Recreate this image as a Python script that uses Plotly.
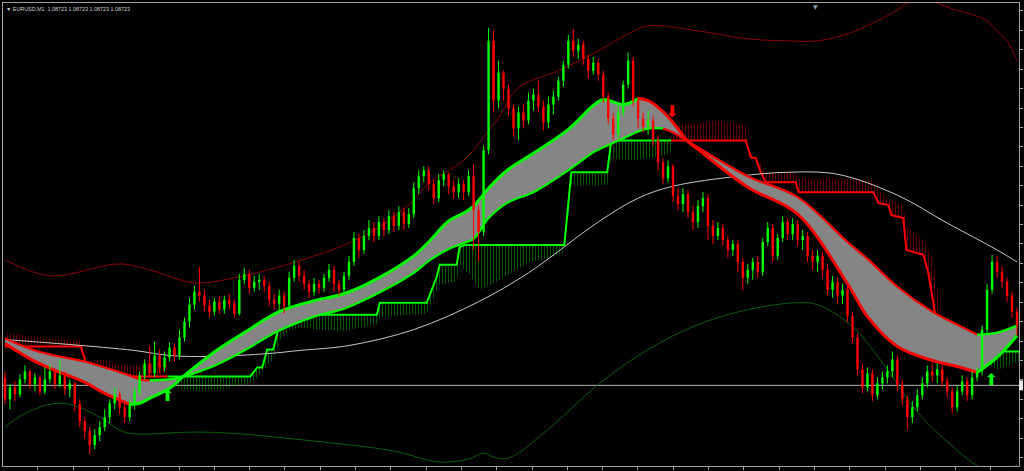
import plotly.graph_objects as go

# ---------------- price data (points above chart floor; bid = 85) ----------------
bars = list(range(204))
open_ = [93,71,83,76,91,99,86,93,79,91, 99,86,95,81,87,66,49,39,25,35,
         43,53,67,76,63,53,66,79,95,107, 97,115,103,113,123,115,133,149,166,179,
         175,165,159,169,161,171,167,157,191,197, 183,189,191,185,171,167,175,165,193,205,
         195,187,179,187,183,193,201,187,181,195, 209,233,221,235,243,235,249,241,255,245,
         259,247,257,283,295,301,287,273,291,297, 285,279,287,279,295,261,239,321,431,371,
         399,383,363,343,359,351,371,377,365,349, 367,375,391,407,431,421,427,413,401,409,
         397,375,353,337,359,387,411,371,353,345, 351,331,309,293,305,275,267,277,259,249,
         265,273,245,235,243,231,221,227,209,193, 201,209,199,229,243,215,233,249,237,247,
         231,235,215,209,215,201,181,189,175,181, 155,133,101,83,97,75,87,93,99,111,
         85,71,53,63,75,87,99,95,101,89, 79,63,79,89,75,93,99,141,181,209,
         199,189,175,159]
high = [99,86,89,96,105,101,97,95,103,106, 101,111,99,91,89,71,53,43,41,49,
        61,71,83,79,69,71,83,99,111,125, 129,121,119,128,127,141,153,173,185,204,
        181,171,173,175,175,177,171,197,203,201, 195,197,195,189,177,181,179,199,211,209,
        201,191,193,191,197,207,205,191,199,215, 239,237,241,251,249,255,253,261,259,265,
        263,263,289,301,305,305,291,297,301,299, 291,293,291,301,307,266,326,444,441,411,
        401,387,367,365,367,379,383,391,371,375, 381,395,411,437,443,433,431,417,415,413,
        401,379,359,365,391,419,415,375,359,361, 355,335,313,311,307,283,283,281,265,271,
        279,277,251,249,247,235,231,231,213,207, 213,215,233,249,247,237,255,253,253,251,
        241,239,221,221,219,207,195,193,187,185, 159,137,107,103,101,93,99,105,119,115,
        91,75,69,81,93,105,107,107,105,93, 83,85,95,93,99,103,145,187,216,215,
        205,193,179,163]
low = [66,61,69,73,87,81,79,75,76,87, 81,83,75,73,59,43,31,16,21,29,
       39,47,61,56,47,49,61,75,91,93, 93,97,99,109,109,111,129,143,161,169,
       159,153,155,157,157,161,153,155,187,177, 179,181,179,165,161,159,157,161,189,189,
       181,173,175,177,179,189,179,175,177,191, 205,213,217,231,229,231,235,237,239,241,
       241,243,253,277,289,281,267,269,285,277, 273,273,271,275,221,209,235,317,359,363,
       371,356,335,331,343,347,361,359,341,343, 357,371,385,403,415,413,407,393,397,391,
       369,347,331,333,355,383,365,343,339,337, 325,301,287,289,269,261,259,253,241,243,
       259,231,227,231,225,213,215,199,181,187, 191,193,195,225,209,211,229,231,231,225,
       221,209,201,199,193,175,173,167,167,149, 127,95,77,79,69,71,81,87,93,79,
       65,41,47,59,71,83,89,87,83,73, 57,59,75,69,71,89,95,137,177,193,
       183,169,153,135]
close = [71,83,76,91,99,86,93,79,91,99, 86,95,81,87,66,49,39,25,35,43,
         53,67,76,63,53,66,79,95,107,97, 115,103,113,123,115,133,149,166,179,175,
         165,159,169,161,171,167,157,191,197,183, 189,191,185,171,167,175,165,193,205,195,
         187,179,187,183,193,201,187,181,195,209, 233,221,235,243,235,249,241,255,245,259,
         247,257,283,295,301,287,273,291,297,285, 279,287,279,295,261,239,321,431,371,399,
         383,363,343,359,351,371,377,365,349,367, 375,391,407,431,421,427,413,401,409,397,
         375,353,337,359,387,411,371,353,345,351, 331,309,293,305,275,267,277,259,249,265,
         273,245,235,243,231,221,227,209,193,201, 209,199,229,243,215,233,249,237,247,231,
         235,215,209,215,201,181,189,175,181,155, 133,101,83,97,75,87,93,99,111,85,
         71,53,63,75,87,99,95,101,89,79, 63,79,89,75,93,99,141,181,209,199,
         189,175,159,145]
bid_level = 85

# ---------------- indicators ----------------
bb_up_x = [0,9,23,29,38,46,59,69,75,82,85,92,96,99,103,111,118,125,129,139,
           149,157,163,169,175,179,181,184,187,190,193,197,199,201,203]
bb_up_y = [211,195,207,201,188,193,210,228,244,271,288,311,334,354,384,401,418,438,446,441,
           433,431,431,438,451,462,469,473,469,463,459,451,441,431,411]
bb_dn_x = [0,3,9,13,19,22,24,27,37,45,62,78,87,93,96,98,101,109,119,129,
           139,149,159,163,170,177,183,190,195,198,201,203]
bb_dn_y = [43,54,66,66,53,43,38,36,38,37,29,19,8,11,17,13,12,41,86,121,
           146,161,168,166,144,101,58,24,4,-4,-4,6]
ma_x = [0,13,26,33,41,53,59,69,82,95,105,119,127,134,147,157,167,179,189,199,203]
ma_y = [131,126,120,115,114,117,120,125,141,169,198,249,273,285,295,299,297,276,248,221,209]

rib_x = [0,6,10,16,20,25,27,29,33,36,39,43,48,55,62,68,75,82,85,89,
         92,94,97,101,106,113,118,120,124,127,129,132,134,137,139,149,159,169,173,179,
         186,191,195,199,203]
fast_y = [127,109,100,88,77,66,67,72,82,95,107,122,138,159,170,177,193,215,229,250,
          258,265,283,302,318,342,366,372,367,373,371,360,349,330,322,284,257,187,154,124,
          110,104,98,113,135]
slow_y = [132,120,115,109,103,95,91,90,91,94,99,107,120,140,154,162,178,198,210,222,
          228,232,253,269,279,301,319,324,333,340,343,343,339,330,324,295,274,229,212,184,
          159,146,136,138,145]
fast_turns = [0, 25, 127, 195, 203]   # down, up, down, up
slow_turns = [0, 29, 132, 195, 203]

red_step_1_x = [0,15.2,16.6,19.2,20,32.6]
red_step_1_y = [124,124,101,101,94,94]
red_hatch_1_x = [0,3.2,7.2,11.2,15.2,16.6,19.2,23.2,27.2,31.2,32.6]
red_hatch_1_y = [138,136,133,131,131,109,111,106,105,109,106]

green_step_1_x = [32.6,49.2,50.6,51.6,52.6,53.8,55.2,59.2,60.2,74.6,75.2,84.6,86.6,87.2,
                  90.6,91.2,92.2,112.2,113.6,120.8,121.6,133.6]
green_step_1_y = [94,94,103,103,121,121,149,154,156,156,168,168,194,206,206,224,226,226,
                  299,299,331,331]
green_hatch_1_x = [32.6,35.2,39.2,43.2,47.2,49.2,50.6,52.2,53.8,55.2,57.2,59.2,63.2,67.2,
                   71.2,74.6,75.2,79.2,84.6,86.6,87.2,90.6,91.2,93.2,95.2,98.6,101.8,105.2,
                   109.2,112.2,113.6,120.8,121.6,125.2,129.2,132.2,133.6]
green_hatch_1_y = [86,81,79,81,85,87,93,103,111,131,141,143,141,139,143,146,153,155,157,
                   179,186,189,206,196,181,189,199,209,213,219,286,286,313,311,313,316,319]

red_step_2_x = [133.6,148.6,149.6,150.6,151.6,152.6,158.6,159.2,174.2,175.2,177.2,177.8,
                180.2,180.8,184.2,185.2,186.6,188.6,197.2]
red_step_2_y = [331,331,314,313,299,289,289,279,279,268,266,256,253,221,216,198,156,119,119]
red_hatch_2_x = [133.6,139.2,143.2,148.6,149.2,151.2,152.6,158.6,159.2,167.2,174.2,175.2,
                 177.8,180.2,180.8,184.2,186.2,188.6,191.2,194.2,197.2]
red_hatch_2_y = [346,349,351,346,321,311,299,299,293,293,291,281,271,266,246,231,211,129,
                 131,133,129]

green_step_2_x = [197.2,203.4]
green_step_2_y = [119,119]
green_hatch_2_x = [197.2,199.2,201.2,203.4]
green_hatch_2_y = [106,101,105,109]

buy_x = [32.6, 197.8]
buy_y = [73, 89]
sell_x = [133.8]
sell_y = [359]

title_text = "EURUSD,M1  1.08723 1.08723 1.08723 1.08723"

RED = "#FF0000"
GREEN = "#00FF00"

fig = go.Figure()


def hatch(sx, sy, hx, hy, color):
    fig.add_trace(go.Scatter(
        x=list(sx) + list(reversed(hx)), y=list(sy) + list(reversed(hy)),
        mode="lines", fill="toself", line=dict(width=0, color=color),
        fillcolor="rgba(0,0,0,0)",
        fillpattern=dict(shape="|", fgcolor=color, bgcolor="rgba(0,0,0,0)",
                         size=3, solidity=0.34),
        hoverinfo="skip", showlegend=False))


hatch(red_step_1_x, red_step_1_y, red_hatch_1_x, red_hatch_1_y, "#c00000")
hatch(green_step_1_x, green_step_1_y, green_hatch_1_x, green_hatch_1_y, "#00b000")
hatch(red_step_2_x, red_step_2_y, red_hatch_2_x, red_hatch_2_y, "#c00000")
hatch(green_step_2_x, green_step_2_y, green_hatch_2_x, green_hatch_2_y, "#00b000")

for sx, sy, col in [(red_step_1_x, red_step_1_y, RED), (green_step_1_x, green_step_1_y, GREEN),
                    (red_step_2_x, red_step_2_y, RED), (green_step_2_x, green_step_2_y, GREEN)]:
    fig.add_trace(go.Scatter(x=sx, y=sy, mode="lines", line=dict(color=col, width=2),
                             hoverinfo="skip", showlegend=False))

# Bollinger-type envelope and long MA
fig.add_trace(go.Scatter(x=bb_up_x, y=bb_up_y, mode="lines",
                         line=dict(color="#8B0000", width=1, shape="spline"), showlegend=False))
fig.add_trace(go.Scatter(x=bb_dn_x, y=bb_dn_y, mode="lines",
                         line=dict(color="#0b5e0b", width=1, shape="spline"), showlegend=False))
fig.add_trace(go.Scatter(x=ma_x, y=ma_y, mode="lines",
                         line=dict(color="#c8c8c8", width=1, shape="spline"), showlegend=False))

# ribbon fill
fig.add_trace(go.Scatter(x=rib_x, y=slow_y, mode="lines",
                         line=dict(width=0, shape="spline"), showlegend=False, hoverinfo="skip"))
fig.add_trace(go.Scatter(x=rib_x, y=fast_y, mode="lines", fill="tonexty",
                         fillcolor="#858585", line=dict(width=0, shape="spline"),
                         showlegend=False, hoverinfo="skip"))


def ribbon_edge(vals, turns, width):
    for k in range(len(turns) - 1):
        a, b = turns[k], turns[k + 1]
        xs = [x for x in rib_x if a <= x <= b]
        ys = [v for x, v in zip(rib_x, vals) if a <= x <= b]
        col = RED if k % 2 == 0 else GREEN
        fig.add_trace(go.Scatter(x=xs, y=ys, mode="lines",
                                 line=dict(color=col, width=width, shape="spline"),
                                 showlegend=False, hoverinfo="skip"))


ribbon_edge(slow_y, slow_turns, 2.2)
ribbon_edge(fast_y, fast_turns, 3)

# candles drawn as line segments
for up, col in [(True, GREEN), (False, RED)]:
    wx, wy, bx, by = [], [], [], []
    for i, o, h, l, c in zip(bars, open_, high, low, close):
        if (c >= o) != up:
            continue
        wx += [i, i, None]
        wy += [l, h, None]
        bx += [i, i, None]
        by += [o, c, None]
    fig.add_trace(go.Scatter(x=wx, y=wy, mode="lines", line=dict(color=col, width=1),
                             showlegend=False, hoverinfo="skip", connectgaps=False))
    fig.add_trace(go.Scatter(x=bx, y=by, mode="lines", line=dict(color=col, width=2.4),
                             showlegend=False, hoverinfo="skip", connectgaps=False))

# signal arrows
fig.add_trace(go.Scatter(x=buy_x, y=buy_y, mode="text", text=["⬆"] * len(buy_x),
                         textfont=dict(color=GREEN, size=16, family="DejaVu Sans"),
                         showlegend=False, hoverinfo="skip"))
fig.add_trace(go.Scatter(x=sell_x, y=sell_y, mode="text", text=["⬇"] * len(sell_x),
                         textfont=dict(color=RED, size=16, family="DejaVu Sans"),
                         showlegend=False, hoverinfo="skip"))

fig.add_shape(type="line", xref="paper", x0=0, x1=1, yref="y", y0=bid_level, y1=bid_level,
              line=dict(color="#b4b4b4", width=1), layer="below")
fig.add_shape(type="rect", xref="paper", x0=1.0, x1=1.004, yref="y",
              y0=bid_level - 5, y1=bid_level + 5, fillcolor="#e6e6e6", line=dict(width=0))

fig.add_annotation(xref="paper", yref="paper", x=0.0, y=1.0, xanchor="left", yanchor="top",
                   xshift=1, yshift=-1, showarrow=False, text="▼ " + title_text,
                   font=dict(family="Liberation Sans", size=5.4, color="#d0d0d0"))
fig.add_annotation(xref="paper", yref="paper", x=0.7998, y=1.0, xanchor="center", yanchor="top",
                   yshift=2, showarrow=False, text="▼",
                   font=dict(family="DejaVu Sans", size=6, color="#8aa2b8"))

fig.update_layout(
    width=1024, height=471,
    margin=dict(l=2, r=3, t=2, b=4),
    paper_bgcolor="#000000", plot_bgcolor="#000000",
    showlegend=False,
    xaxis=dict(range=[-0.4, 203.4], showgrid=False, zeroline=False, showticklabels=False,
               ticks="outside", ticklen=3, tickcolor="#a0a0a0", tick0=6.6, dtick=7.08,
               showline=True, linecolor="#a0a0a0", linewidth=1, mirror=True, fixedrange=True),
    yaxis=dict(range=[4, 469], side="right", showgrid=False, zeroline=False,
               showticklabels=False, ticks="outside", ticklen=3, tickcolor="#a0a0a0",
               tick0=461, dtick=19.5, showline=True, linecolor="#a0a0a0", linewidth=1,
               mirror=True, fixedrange=True),
)

fig.write_html("out.html", config={"displayModeBar": False, "staticPlot": True},
               post_script="document.body.style.margin='0';document.body.style.padding='0';"
                           "document.body.style.overflow='hidden';"
                           "document.body.style.background='#000';")
